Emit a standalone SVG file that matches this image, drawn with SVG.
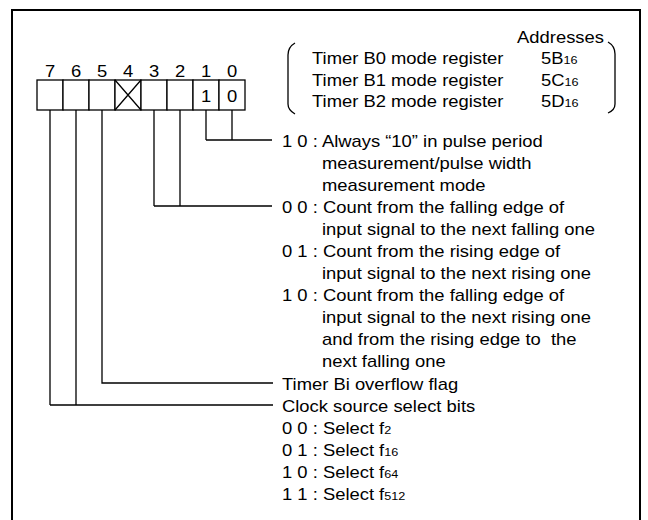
<svg xmlns="http://www.w3.org/2000/svg" width="648" height="520" viewBox="0 0 648 520">
<style>
text{font-family:"Liberation Sans",Arial,sans-serif;font-size:16px;fill:#000}
.m{text-anchor:middle}
.e{text-anchor:end}
.sub{font-size:11px}
.ln{fill:none;stroke:#000;stroke-width:1.3}
.cell{fill:#fff;stroke:#000;stroke-width:1.3}
</style>
<rect x="12" y="10" width="628" height="530" fill="#fff" stroke="#000" stroke-width="2"/>
<g id="register">
<rect class="cell" x="37" y="80" width="26" height="30"/>
<rect class="cell" x="63" y="80" width="26" height="30"/>
<rect class="cell" x="89" y="80" width="26" height="30"/>
<rect class="cell" x="115" y="80" width="26" height="30"/>
<rect class="cell" x="141" y="80" width="26" height="30"/>
<rect class="cell" x="167" y="80" width="26" height="30"/>
<rect class="cell" x="193" y="80" width="26" height="30"/>
<rect class="cell" x="219" y="80" width="26" height="30"/>
<path class="ln" d="M115,80 L141,110 M141,80 L115,110"/>
<text class="m" transform="translate(50,77) scale(1.15,1)">7</text>
<text class="m" transform="translate(76,77) scale(1.15,1)">6</text>
<text class="m" transform="translate(102,77) scale(1.15,1)">5</text>
<text class="m" transform="translate(128,77) scale(1.15,1)">4</text>
<text class="m" transform="translate(154,77) scale(1.15,1)">3</text>
<text class="m" transform="translate(180,77) scale(1.15,1)">2</text>
<text class="m" transform="translate(206,77) scale(1.15,1)">1</text>
<text class="m" transform="translate(232,77) scale(1.15,1)">0</text>
<text class="m" transform="translate(206,102) scale(1.15,1)">1</text>
<text class="m" transform="translate(232,102) scale(1.15,1)">0</text>
</g>
<g id="header">
<path class="ln" d="M295,43 Q288,47 288,55 V104 Q288,110 295,114"/>
<path class="ln" d="M608,42 Q615,46 615,54 V104 Q615,110 608,113"/>
<text class="e" transform="translate(604,43) scale(1.15,1)">Addresses</text>
<text transform="translate(312,64) scale(1.15,1)">Timer B0 mode register</text>
<text transform="translate(312,86) scale(1.15,1)">Timer B1 mode register</text>
<text transform="translate(312,107) scale(1.15,1)">Timer B2 mode register</text>
<text transform="translate(541,64) scale(1.15,1)">5B<tspan class="sub">16</tspan></text>
<text transform="translate(541,86) scale(1.15,1)">5C<tspan class="sub">16</tspan></text>
<text transform="translate(541,107) scale(1.15,1)">5D<tspan class="sub">16</tspan></text>
</g>
<g id="connectors">
<path class="ln" d="M206,110 V140 M232,110 V140 M206,140 H272"/>
<path class="ln" d="M154,110 V206 M180,110 V206 M154,206 H272"/>
<path class="ln" d="M102,110 V383 H273"/>
<path class="ln" d="M50,110 V405 M76,110 V405 M50,405 H273"/>
</g>
<g id="bits10">
<text transform="translate(282,147) scale(1.15,1)">1 0 : Always “10” in pulse period</text>
<text transform="translate(322,169) scale(1.15,1)">measurement/pulse width</text>
<text transform="translate(322,191) scale(1.15,1)">measurement mode</text>
</g>
<g id="bits32">
<text transform="translate(282,213) scale(1.15,1)">0 0 : Count from the falling edge of</text>
<text transform="translate(322,235) scale(1.15,1)">input signal to the next falling one</text>
<text transform="translate(282,257) scale(1.15,1)">0 1 : Count from the rising edge of</text>
<text transform="translate(322,279) scale(1.15,1)">input signal to the next rising one</text>
<text transform="translate(282,301) scale(1.15,1)">1 0 : Count from the falling edge of</text>
<text transform="translate(322,323) scale(1.15,1)">input signal to the next rising one</text>
<text transform="translate(322,345) scale(1.15,1)" xml:space="preserve">and from the rising edge to  the</text>
<text transform="translate(322,367) scale(1.15,1)">next falling one</text>
</g>
<g id="bit5">
<text transform="translate(282,390) scale(1.15,1)">Timer Bi overflow flag</text>
</g>
<g id="bits76">
<text transform="translate(282,412) scale(1.15,1)">Clock source select bits</text>
<text transform="translate(282,434) scale(1.15,1)">0 0 : Select f<tspan class="sub">2</tspan></text>
<text transform="translate(282,456) scale(1.15,1)">0 1 : Select f<tspan class="sub">16</tspan></text>
<text transform="translate(282,478) scale(1.15,1)">1 0 : Select f<tspan class="sub">64</tspan></text>
<text transform="translate(282,500) scale(1.15,1)">1 1 : Select f<tspan class="sub">512</tspan></text>
</g>
</svg>
